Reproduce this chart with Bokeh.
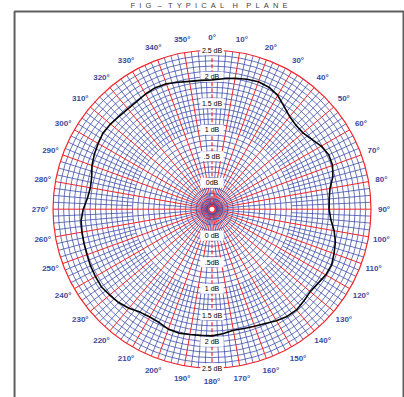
import numpy as np
from bokeh.plotting import figure
from bokeh.models import Range1d
from bokeh.core.properties import value
from bokeh.embed import file_html
from bokeh.resources import INLINE

# ---------------- data ----------------
angles_deg = list(range(0, 360, 5))
gain_db = [1.94, 1.97, 2.01, 2.04, 2.06, 2.04, 1.98, 1.87, 1.78, 1.74, 1.74, 1.80, 1.88, 1.93, 1.92, 1.86, 1.76, 1.72,
           1.71, 1.75, 1.84, 1.91, 1.95, 1.99, 1.98, 1.94, 1.92, 1.95, 1.98, 1.97, 1.93, 1.88, 1.85, 1.83, 1.82, 1.86,
           1.89, 1.89, 1.90, 1.92, 1.91, 1.86, 1.85, 1.87, 1.94, 1.99, 2.02, 2.05, 2.04, 2.03, 2.01, 2.00, 1.99, 1.98,
           1.93, 1.86, 1.83, 1.85, 1.91, 1.95, 1.98, 2.01, 2.00, 1.98, 1.97, 1.98, 2.01, 2.03, 2.02, 1.98, 1.95, 1.94]

ring_db = [0.0, 0.5, 1.0, 1.5, 2.0, 2.5]
ring_labels_top = ["0dB", ".5 dB", "1 dB", "1.5 dB", "2 dB", "2.5 dB"]
ring_labels_bottom = ["0 dB", ".5dB", "1 dB", "1.5 dB", "2 dB", "2.5 dB"]

angle_ticks = list(range(0, 360, 10))
angle_tick_labels = [f"{a}\u00b0" for a in angle_ticks]

NB = "\u00a0"
SP = NB * 2
WG = NB * 4
title_text = SP.join("FIG") + NB * 3 + "\u2013" + NB * 3 + SP.join("TYPICAL") + WG + "H" + WG + SP.join("PLANE")

DB_MIN, DB_MAX, DB_STEP = -0.4, 2.5, 0.1
OFFSET = 0.5          # radial offset: 0 dB ring sits at radius 0.5
R_OUT = DB_MAX + OFFSET

BLUE = "#3a4aa8"
RED = "#f2262c"


def pol(r, a_deg):
    a = np.radians(a_deg)
    return r * np.sin(a), r * np.cos(a)


p = figure(width=404, height=397,
           x_range=Range1d(-3.991, 3.632), y_range=Range1d(-3.553, 3.938),
           output_backend="svg", toolbar_location=None, min_border=0,
           x_axis_location=None, y_axis_location=None)
p.grid.visible = False
p.outline_line_color = None
p.background_fill_color = "white"
p.border_fill_color = "white"

# title and frame box
p.text(x=[-0.057], y=[3.929], text=[title_text], text_align="center", text_baseline="top",
       text_font=value("Liberation Sans"), text_font_size="7.5px", text_color="#444444")
p.line(x=[-3.726, -3.726, 3.613, 3.613], y=[-3.7, 3.730, 3.730, -3.7],
       line_color="#5f5f5f", line_width=2)

# red spokes, inner part (under the blue)
xs, ys = [], []
for a in angle_ticks:
    if a in (0, 180):
        continue
    x0, y0 = pol(0.08, a)
    x1, y1 = pol(0.5, a)
    xs.append([x0, x1]); ys.append([y0, y1])
p.multi_line(xs=xs, ys=ys, line_color=RED, line_width=1)

# blue spokes
xs, ys = [], []
for a in np.arange(0, 360, 2.5):
    if a % 10 == 0:
        continue
    r0 = 0.05 if a % 5 == 0 else 1.0 + OFFSET
    x0, y0 = pol(r0, a)
    x1, y1 = pol(R_OUT, a)
    xs.append([x0, x1]); ys.append([y0, y1])
p.multi_line(xs=xs, ys=ys, line_color=BLUE, line_width=0.9, line_alpha=0.85)

# blue rings every 0.1 dB
radii = [round(d + OFFSET, 3) for d in np.arange(DB_MIN, DB_MAX - 0.05, DB_STEP)]
p.circle(x=[0] * len(radii), y=[0] * len(radii), radius=radii,
         fill_color=None, line_color=BLUE, line_width=0.9, line_alpha=0.85)

# red spokes every 10 deg, outer part
xs, ys = [], []
for a in angle_ticks:
    if a in (0, 180):
        continue
    x0, y0 = pol(0.5, a)
    x1, y1 = pol(R_OUT, a)
    xs.append([x0, x1]); ys.append([y0, y1])
p.multi_line(xs=xs, ys=ys, line_color=RED, line_width=1)
p.line(x=[0, 0], y=[-R_OUT, R_OUT], line_color=RED, line_width=1.2, line_dash="4 2")

# outer red ring and centre marks
p.circle(x=[0], y=[0], radius=[R_OUT], fill_color=None, line_color=RED, line_width=1.2)
p.circle(x=[0], y=[0], radius=[0.06], fill_color="white", line_color=RED, line_width=1.3)

# dB labels with white boxes
lab_x = [0] * (2 * len(ring_db))
lab_y = [d + OFFSET for d in ring_db] + [-(d + OFFSET) for d in ring_db]
lab_t = ring_labels_top + ring_labels_bottom
p.rect(x=lab_x, y=lab_y, width=[0.44] * len(lab_x), height=[0.19] * len(lab_x),
       fill_color="white", line_color=None)
p.text(x=lab_x, y=lab_y, text=lab_t, text_align="center", text_baseline="middle",
       text_font=value("Liberation Sans"), text_font_size="7px", text_color="black")

# angle labels
tx, ty = pol(3.245, np.array(angle_ticks, dtype=float))
p.text(x=list(tx), y=list(ty), text=angle_tick_labels, text_align="center", text_baseline="middle",
       text_font=value("Liberation Sans"), text_font_size="8px", text_font_style="bold",
       text_color="#3a4a9c")

# measured pattern
ang = np.array(angles_deg + [angles_deg[0]], dtype=float)
gdb = np.array(gain_db + [gain_db[0]]) + OFFSET
cx, cy = pol(gdb, ang)
p.line(x=list(cx), y=list(cy), line_color="black", line_width=1.6)

open("out.html", "w").write(file_html(p, INLINE))
